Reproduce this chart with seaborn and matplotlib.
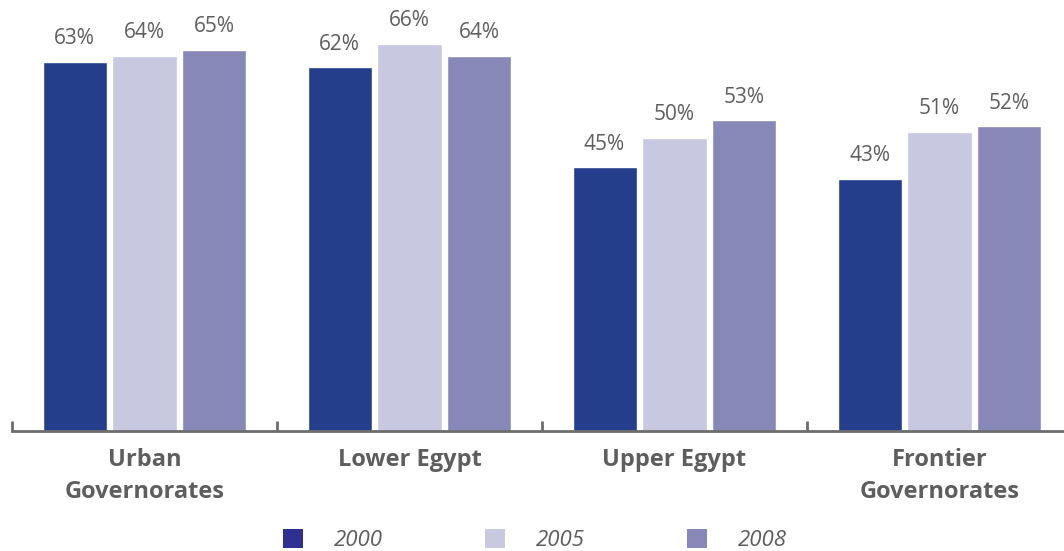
import matplotlib
matplotlib.use("Agg")
import matplotlib.pyplot as plt
import seaborn as sns
import pandas as pd
from matplotlib.patches import Patch
from matplotlib.ticker import FixedLocator

# Share of population by region and survey year (%)
regions = ["Urban\nGovernorates", "Lower Egypt", "Upper Egypt", "Frontier\nGovernorates"]
years = ["2000", "2005", "2008"]
values_2000 = [63, 62, 45, 43]
values_2005 = [64, 66, 50, 51]
values_2008 = [65, 64, 53, 52]

bar_colors = ["#243E8B", "#C8C8E0", "#8888B8"]
legend_colors = ["#2E3192", "#C8C8E0", "#8888B8"]
text_gray = "#5E5E5E"
axis_gray = "#6D6D6D"

rows = []
for year, vals in zip(years, [values_2000, values_2005, values_2008]):
    for region, v in zip(regions, vals):
        rows.append({"region": region, "year": year, "value": v})
df = pd.DataFrame(rows)

sns.set_style("white")
plt.rcParams["font.family"] = ["Open Sans", "DejaVu Sans"]

W, H = 1064, 551
fig = plt.figure(figsize=(W / 100, H / 100), dpi=100)
ax = fig.add_axes([12 / W, 120 / H, 1052 / W, 431 / H])

sns.barplot(data=df, x="region", y="value", hue="year", order=regions,
            hue_order=years, palette=bar_colors, width=0.792, gap=0.085,
            saturation=1, ax=ax, legend=False)

ax.set_xlim(-0.5, 3.5 - 8 / 265)
ax.set_ylim(0, 73.5)

for container in ax.containers:
    ax.bar_label(container, labels=[f"{int(round(b.get_height()))}%" for b in container],
                 padding=9, fontsize=15, color=text_gray)

for s in ["top", "right", "left"]:
    ax.spines[s].set_visible(False)
ax.spines["bottom"].set_color(axis_gray)
ax.spines["bottom"].set_linewidth(2)
ax.set_yticks([])
ax.set_xlabel("")
ax.set_ylabel("")

ax.set_xticks(range(len(regions)))
ax.set_xticklabels(regions, fontsize=17, fontweight="bold", color=text_gray,
                   linespacing=1.45, va="top")
ax.tick_params(axis="x", which="major", bottom=False, length=0, pad=12)
ax.xaxis.set_minor_locator(FixedLocator([-0.5, 0.5, 1.5, 2.5, 3.5]))
ax.tick_params(axis="x", which="minor", bottom=True, direction="in", length=7.5,
               width=2, color=axis_gray)

handles = [Patch(facecolor=c, edgecolor="none") for c in legend_colors]
fig.legend(handles, years, loc="center", bbox_to_anchor=(535 / W, 1 - 540 / H),
           ncol=3, frameon=False, handlelength=0.9, handleheight=0.9,
           handletextpad=1.4, columnspacing=4.6,
           prop={"size": 16, "style": "italic"}, labelcolor=text_gray)

fig.savefig("out.png", dpi=100)
